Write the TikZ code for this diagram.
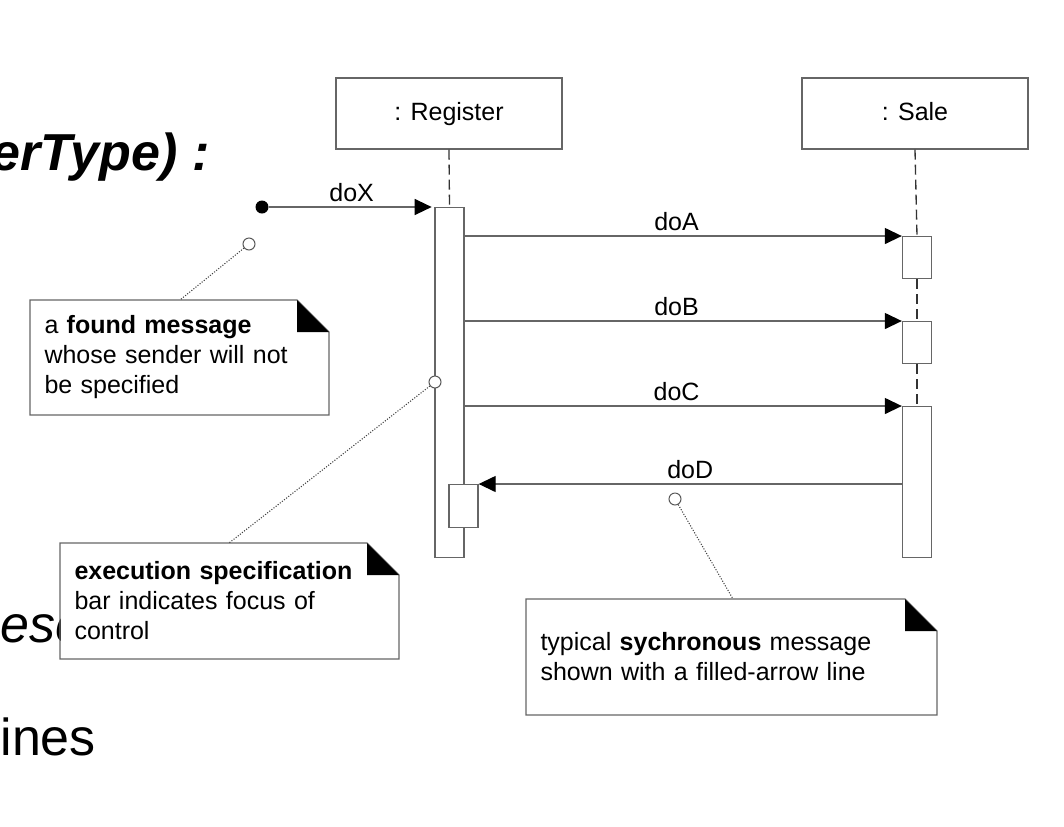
\documentclass[tikz,border=0pt]{standalone}
\usepackage{fontspec}
\setmainfont{Liberation Sans}
\usetikzlibrary{arrows.meta}

\tikzset{every picture/.style={line width=0.75pt}}
\tikzset{
	head/.style={draw=black!60, line width=1pt, fill=white, minimum width=169.5pt, minimum height=53.25pt, inner sep=0pt, text height=1em, text depth=0pt, font=\fontsize{18.75pt}{22.5pt}\selectfont},
	bar/.style={draw=black!60, line width=1pt, fill=white, minimum width=21.75pt, inner sep=0pt, anchor=north},
	life/.style={draw=black!80, line width=1pt, dash pattern={on 7.5pt off 3.75pt}},
	msg/.style={draw=black!60, line width=1pt, -{Triangle[length=12.75pt, width=12pt, color=black]}},
	lbl/.style={above, inner sep=3.5pt, font=\fontsize{18.75pt}{22.5pt}\selectfont},
	founddot/.style={circle, fill=black, minimum size=9.75pt, inner sep=0pt},
	pin/.style={circle, draw=black!65, fill=white, line width=0.75pt, minimum size=9pt, inner sep=0pt},
	tie/.style={draw=black!75, line width=0.8pt, dash pattern={on 0.8pt off 1.2pt}},
	note/.style={fill=white, anchor=north west, align=left, inner xsep=10.5pt, inner ysep=0pt, font=\fontsize{18.75pt}{22.5pt}\selectfont},
	noteline/.style={draw=black!60, line width=1pt},
	backtext/.style={inner sep=0pt, font=\fontsize{39pt}{46pt}\selectfont}
}
% outline of a note with its folded corner
\newcommand{\foldnote}[1]{%
	\path (#1.north east) ++(-32,0) coordinate (#1-a) ++(0,32) coordinate (#1-b) ++(32,0) coordinate (#1-c);
	\draw[noteline] (#1-a) -- (#1.north west) -- (#1.south west) -- (#1.south east) -- (#1-c) -- cycle;
	\fill (#1-a) -- (#1-b) -- (#1-c) -- cycle;}

\begin{document}
\begin{tikzpicture}[x=0.75pt,y=0.75pt,yscale=-1,xscale=1]
	\useasboundingbox (0,0) rectangle (1064,826);

	% Text Node
	\node[backtext, anchor=base east, font=\fontsize{39pt}{46pt}\selectfont\bfseries\itshape] (slidetitle) at (210,170) {erType) :};
	% Text Node
	\node[backtext, anchor=base west, font=\fontsize{39pt}{46pt}\selectfont\itshape] (slideesc) at (0,642) {esc};
	% Text Node
	\node[backtext, anchor=base west] (slideines) at (0,755) {ines};

	% Lifeline heads
	\node[head] (reg) at (449,113.5) {: Register};
	\node[head] (sale) at (915,113.5) {: Sale};

	% Execution bars
	\node[bar, minimum height=262.5pt] (regbar) at (449.5,207) {};
	\node[bar, minimum height=32.25pt] (regsub) at (463.5,484) {};
	\node[bar, minimum height=31.5pt] (saleA) at (917,236) {};
	\node[bar, minimum height=31.5pt] (saleB) at (917,321) {};
	\node[bar, minimum height=113.25pt] (saleC) at (917,406) {};

	% Lifelines
	\draw[life] (reg.south) -- (regbar.north);
	\draw[life] (sale.south) -- (saleA.north);
	\draw[life] (saleA.south) -- (saleB.north);
	\draw[life] (saleB.south) -- (saleC.north);

	% Messages
	\node[founddot] (found) at (262,207) {};
	\draw[msg, shorten >=2pt] (found) -- (regbar.north west) node[lbl, midway] {doX};
	\draw[msg] (regbar.east |- saleA.north) -- (saleA.north west) node[lbl, midway, xshift=-5pt] {doA};
	\draw[msg] (regbar.east |- saleB.north) -- (saleB.north west) node[lbl, midway, xshift=-5pt] {doB};
	\draw[msg] (regbar.east |- saleC.north) -- (saleC.north west) node[lbl, midway, xshift=-5pt] {doC};
	\draw[msg] (saleC.west |- regsub.north) -- (regsub.north east) node[lbl, midway] {doD};

	% Notes
	\node[note, minimum width=223.5pt, minimum height=85.5pt, text width=202.5pt] (foundnote) at (30,300) {a \textbf{found message}\\whose sender will not\\be specified};
	\foldnote{foundnote}
	\node[note, minimum width=253.5pt, minimum height=86.25pt, text width=232.5pt] (execnote) at (60,543) {\textbf{execution specification}\\bar indicates focus of\\control};
	\foldnote{execnote}
	\node[note, minimum width=307.5pt, minimum height=86.25pt, text width=286.5pt] (syncnote) at (526,599) {typical \textbf{sychronous} message\\shown with a filled-arrow line};
	\foldnote{syncnote}

	% Note ties
	\node[pin] (pinX) at (249,244) {};
	\node[pin] (pinE) at (435,382) {};
	\node[pin] (pinD) at (675,499) {};
	\draw[tie] (pinX) -- ([xshift=112.5pt]foundnote.north west);
	\draw[tie] (pinE) -- ([xshift=126.75pt]execnote.north west);
	\draw[tie] (pinD) -- ([xshift=155.25pt]syncnote.north west);
\end{tikzpicture}
\end{document}
